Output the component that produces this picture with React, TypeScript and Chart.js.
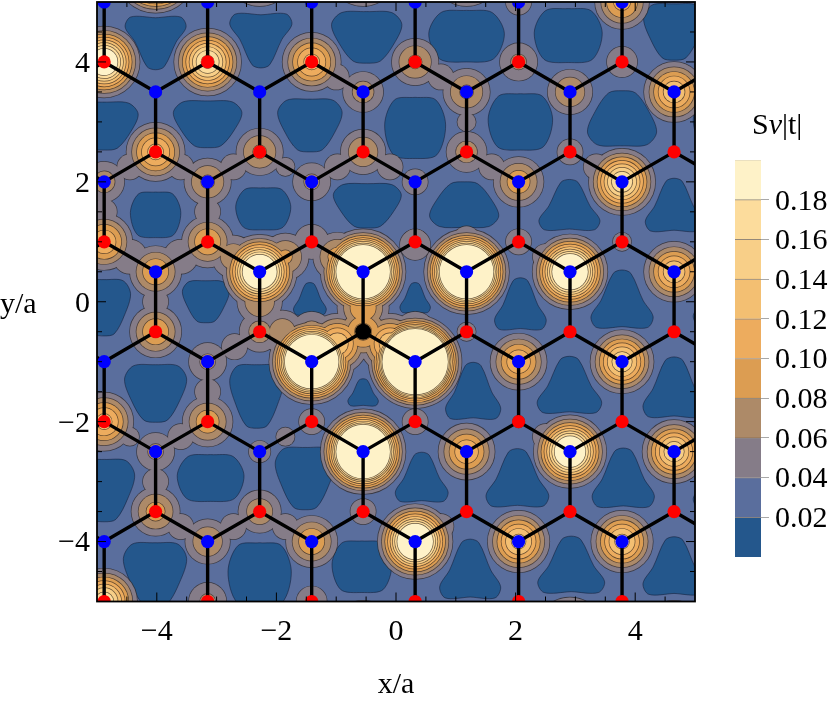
import React, { useEffect, useRef } from "react";
import { Chart, registerables } from "chart.js";
Chart.register(...registerables);

const SERIF = "'Liberation Serif', 'Times New Roman', serif";

// lattice columns
const evenCols = [-4.88, -3.15, -1.41, 0.32, 2.05, 3.78, 5.51];
const oddCols = [-4.02, -2.28, -0.55, 1.18, 2.91, 4.65];
const zigCols = [-5.74, -4.88, -4.02, -3.15, -2.28, -1.41, -0.55, 0.32, 1.18, 2.05, 2.91, 3.78, 4.65, 5.51];

// sublattice rows
const redEvenY = [-5, -2, 1, 4];
const redOddY = [-3.5, -0.5, 2.5];
const blueEvenY = [-4, -1, 2, 5];
const blueOddY = [-2.5, 0.5, 3.5];
const impurity = [{ x: -0.55, y: -0.5 }];

// peak height of S nu |t| at each site, row by row
const ampY55 = [0.4, 0.2, 0.2, 0.2, 0.1, 0.03];
const ampY5 = [0.03, 0.03, 0.03, 0.03, 0.05, 0.11, 0.03];
const ampY4 = [0.23, 0.19, 0.13, 0.085, 0.065, 0.055, 0.03];
const ampY35 = [0.03, 0.03, 0.07, 0.085, 0.08, 0.14];
const ampY25 = [0.13, 0.085, 0.08, 0.07, 0.05, 0.03];
const ampY2 = [0.07, 0.085, 0.065, 0.05, 0.095, 0.185, 0.08];
const ampY1 = [0.12, 0.1, 0.06, 0.05, 0.05, 0.045, 0.03];
const ampY05 = [0.1, 0.27, 0.49, 0.49, 0.28, 0.14];
const ampYm05 = [0.1, 0.07, 0.11, 0.045, 0.03, 0.03];
const ampYm1 = [0.03, 0.065, 0.49, 0.8, 0.12, 0.16, 0.06];
const ampYm2 = [0.13, 0.095, 0.05, 0.05, 0.042, 0.03, 0.03];
const ampYm25 = [0.065, 0.047, 0.49, 0.12, 0.25, 0.16];
const ampYm35 = [0.09, 0.075, 0.05, 0.03, 0.03, 0.03];
const ampYm4 = [0.03, 0.08, 0.1, 0.28, 0.15, 0.15, 0.05];
const ampYm5 = [0.18, 0.065, 0.055, 0.03, 0.03, 0.03, 0.03];
const ampYm55 = [0.03, 0.03, 0.15, 0.03, 0.2, 0.15];

// ridges along bonds where neighbouring peaks merge: x, y, height
const ridges: number[][] = [
  [-2.72, 0.75, 0.075], [-1.85, 0.75, 0.085], [-0.98, 0.75, 0.09], [-2.28, 0, 0.08], [-1.9, -0.5, 0.075],
  [-1.41, -0.5, 0.07], [0.32, -0.5, 0.07], [-0.98, -0.7, 0.14], [-0.1, -0.7, 0.14], [-0.55, -0.1, 0.1],
  [-1, 3.75, 0.05], [-4.45, 2.25, 0.05], [-3.6, 2.25, 0.05], [-2.72, 2.25, 0.05], [-1.85, 2.25, 0.045],
  [-0.98, 2.25, 0.05], [-3.15, 1.5, 0.05], [-4.88, 1.5, 0.05], [-4.45, 0.75, 0.06], [-3.6, 0.75, 0.06],
  [-4.02, 0, 0.05], [-2.7, -0.75, 0.05], [-3.15, -1.5, 0.05], [-4.45, -2.25, 0.045], [-3.6, -2.25, 0.05],
  [-4.02, -3, 0.05], [-3.6, -3.75, 0.05], [-2.72, -3.75, 0.05], [-1.85, -3.75, 0.05], [-0.1, 2.25, 0.05],
  [0.75, 3.75, 0.05], [1.18, 3, 0.045], [1.6, 2.25, 0.05], [3.35, 2.25, 0.05], [2.5, 0.75, 0.05],
  [2.5, -2.25, 0.05], [-1.85, -2.25, 0.045], [0.75, -3.75, 0.05], [0.32, 0.95, 0.055], [1.18, 1.05, 0.05],
];

// lowest-band regions: centre x, centre y, half width, half height, outline
const poolX = [-4.02, -2.26, -0.49, 1.18, 2.88, 4.65, -4.88, -3.15, -1.44, 0.32, 2.08, 3.78, 5.51, -4.02, -2.22, -0.48, 1.14, 2.9, 4.65, -4.88, -3.18, -1.44, 0.32, 2.08, 3.78, 5.51, -4.02, -2.33, -0.55, 1.29, 2.9, 4.65, -4.88, -3.1, -1.52, 0.43, 2.03, 3.8, 5.51, -4.03, -2.28, -0.57, 1.24, 2.93, 4.65];
const poolY = [4.31, 4.35, 4.41, 4.43, 4.44, 4.5, 2.93, 2.96, 2.94, 2.9, 3.0, 3.06, 3.0, 1.45, 1.55, 1.6, 1.62, 1.62, 1.62, -0.1, 0, 0.05, 0.07, -0.03, 0.05, 0.05, -1.53, -1.58, -1.51, -1.48, -1.38, -1.42, -3.15, -2.94, -2.95, -2.92, -2.93, -2.93, -3, -4.55, -4.55, -4.42, -4.45, -4.38, -4.4];
const poolW = [0.52, 0.53, 0.6, 0.645, 0.58, 0.52, 0.58, 0.585, 0.55, 0.52, 0.55, 0.59, 0.55, 0.43, 0.47, 0.58, 0.59, 0.52, 0.49, 0.45, 0.4, 0.28, 0.26, 0.44, 0.53, 0.55, 0.53, 0.46, 0.26, 0.47, 0.55, 0.53, 0.52, 0.57, 0.51, 0.45, 0.535, 0.53, 0.55, 0.54, 0.54, 0.51, 0.52, 0.57, 0.53];
const poolH = [0.44, 0.45, 0.43, 0.43, 0.45, 0.47, 0.4, 0.39, 0.44, 0.51, 0.47, 0.46, 0.45, 0.38, 0.35, 0.37, 0.38, 0.42, 0.44, 0.47, 0.35, 0.27, 0.25, 0.43, 0.48, 0.45, 0.48, 0.53, 0.225, 0.47, 0.47, 0.5, 0.52, 0.39, 0.52, 0.41, 0.48, 0.49, 0.45, 0.53, 0.53, 0.43, 0.49, 0.47, 0.48];
const poolKind = ["D", "D", "T", "H", "H", "T", "T", "T", "T", "H", "H", "B", "H", "H", "H", "T", "B", "U", "U", "T", "T", "U", "U", "U", "U", "U", "T", "T", "U", "U", "U", "U", "T", "H", "T", "U", "U", "U", "U", "T", "H", "H", "U", "U", "U"];

const outlineD = [[0, 0.97], [0.8, 1], [0.98, 0.62], [0.66, 0.05], [0.28, -0.88], [0, -1], [-0.28, -0.88], [-0.66, 0.05], [-0.98, 0.62], [-0.8, 1], [0, 0.97]];
const outlineT = [[0, 1], [0.7, 0.96], [0.98, 0.5], [0.76, -0.25], [0.38, -0.92], [0, -1], [-0.38, -0.92], [-0.76, -0.25], [-0.98, 0.5], [-0.7, 0.96], [0, 1]];
const outlineH = [[0, 1], [0.66, 0.92], [0.98, 0.1], [0.7, -0.88], [0, -1], [-0.7, -0.88], [-0.98, 0.1], [-0.66, 0.92], [0, 1]];
const flip = (o: number[][]) => o.map(([a, b]) => [a, -b]);
const outlines: Record<string, number[][]> = { D: outlineD, T: outlineT, H: outlineH, U: flip(outlineD), B: flip(outlineT) };

// contour levels and their band colours
const bandEdges = [0, 0.02, 0.04, 0.06, 0.08, 0.1, 0.12, 0.14, 0.16, 0.18, 0.2];
const bandColors = ["#24578c", "#5a6e9d", "#857c88", "#ad8a68", "#dc9d52", "#edac5e", "#f3bf72", "#f8cf88", "#fcdc9c", "#fef2c8"];
const legendTicks = [0.02, 0.04, 0.06, 0.08, 0.1, 0.12, 0.14, 0.16, 0.18];

const axisLabels = [-4, -2, 0, 2, 4];
const minorTicks = [-4.5, -3.5, -3, -2.5, -1.5, -1, -0.5, 0.5, 1, 1.5, 2.5, 3, 3.5, 4.5];

const haloRows: [number, number[], number[]][] = [
  [5.5, oddCols, ampY55], [5, evenCols, ampY5], [4, evenCols, ampY4], [3.5, oddCols, ampY35],
  [2.5, oddCols, ampY25], [2, evenCols, ampY2], [1, evenCols, ampY1], [0.5, oddCols, ampY05],
  [-0.5, oddCols, ampYm05], [-1, evenCols, ampYm1], [-2, evenCols, ampYm2], [-2.5, oddCols, ampYm25],
  [-3.5, oddCols, ampYm35], [-4, evenCols, ampYm4], [-5, evenCols, ampYm5], [-5.5, oddCols, ampYm55],
];

const WIDTH2 = 720; // squared halo width in canvas pixels

function haloPoints(level: number) {
  const pts: { x: number; y: number; r: number }[] = [];
  const add = (x: number, y: number, a: number) => {
    if (a > level) pts.push({ x, y, r: Math.sqrt(WIDTH2 * Math.log(a / level)) });
  };
  haloRows.forEach(([y, cols, amps]) => cols.forEach((x, i) => add(x, y, amps[i])));
  ridges.forEach(([x, y, a]) => add(x, y, a));
  return pts;
}

function atoms(colsYs: [number[], number[]][]) {
  const out: { x: number; y: number }[] = [];
  colsYs.forEach(([cols, ys]) => ys.forEach((y) => cols.forEach((x) => out.push({ x, y }))));
  return out;
}

function zigzag(yEvenRow: number, yOddRow: number) {
  return zigCols.map((x) => ({ x, y: evenCols.includes(x) ? yEvenRow : yOddRow }));
}

const line = (data: any[], extra: any = {}) => ({
  type: "line",
  data,
  pointRadius: 0,
  borderColor: "#000",
  borderWidth: 3.4,
  fill: false,
  tension: 0,
  ...extra,
});

function buildDatasets() {
  const paint: any[] = [];
  poolX.forEach((x, i) => {
    const d = outlines[poolKind[i]].map(([a, b]) => ({ x: x + a * poolW[i], y: poolY[i] + b * poolH[i] }));
    paint.push(line(d, { fill: "shape", tension: 0.32, backgroundColor: bandColors[0], borderColor: "rgba(20,30,55,0.55)", borderWidth: 1 }));
  });
  bandEdges.slice(2, 10).forEach((level, i) => {
    const pts = haloPoints(level);
    paint.push({ type: "bubble", data: pts, backgroundColor: "rgba(0,0,0,0)", borderColor: "rgba(45,35,30,0.7)", borderWidth: 1.4, clip: 0 });
    paint.push({ type: "bubble", data: pts, backgroundColor: bandColors[i + 2], borderWidth: 0, clip: 0 });
  });
  // bonds
  [[4, 3.5], [1, 0.5], [-2, -2.5], [2, 2.5], [-1, -0.5], [-4, -3.5]].forEach(([e, o]) => paint.push(line(zigzag(e, o))));
  [[5, 4], [2, 1], [-1, -2], [-4, -5]].forEach(([a, b]) =>
    evenCols.forEach((x) => paint.push(line([{ x, y: a }, { x, y: b }]))),
  );
  [[3.5, 2.5], [0.5, -0.5], [-2.5, -3.5]].forEach(([a, b]) =>
    oddCols.forEach((x) => paint.push(line([{ x, y: a }, { x, y: b }]))),
  );
  const pointSet = (data: any[], color: string, r: number) => ({
    type: "scatter", data, showLine: false, pointRadius: r, backgroundColor: color, borderWidth: 0, clip: 0,
  });
  paint.push(pointSet(atoms([[evenCols, redEvenY], [oddCols, redOddY]]), "#ff0000", 6.6));
  paint.push(pointSet(atoms([[evenCols, blueEvenY], [oddCols, blueOddY]]), "#0000ff", 6.6));
  paint.push(pointSet(impurity, "#000000", 8));
  return paint.reverse(); // Chart.js paints the first dataset last
}

const minus = (v: number) => (v < 0 ? "\u2212" + Math.abs(v) : String(v));

const framePlugin = {
  id: "frame",
  beforeDatasetsDraw(chart: any) {
    const { ctx, chartArea: a } = chart;
    ctx.save();
    ctx.fillStyle = bandColors[1];
    ctx.fillRect(a.left, a.top, a.right - a.left, a.bottom - a.top);
    ctx.restore();
  },
  afterDatasetsDraw(chart: any) {
    const { ctx, chartArea: a, scales } = chart;
    ctx.save();
    ctx.strokeStyle = "#000";
    const mark = (vals: number[], len: number, w: number) => {
      ctx.lineWidth = w;
      ctx.beginPath();
      vals.forEach((v) => {
        const px = scales.x.getPixelForValue(v);
        const py = scales.y.getPixelForValue(v);
        ctx.moveTo(px, a.bottom); ctx.lineTo(px, a.bottom - len);
        ctx.moveTo(px, a.top); ctx.lineTo(px, a.top + len);
        ctx.moveTo(a.left, py); ctx.lineTo(a.left + len, py);
        ctx.moveTo(a.right, py); ctx.lineTo(a.right - len, py);
      });
      ctx.stroke();
    };
    mark(axisLabels, 9, 1);
    mark(minorTicks, 5, 1);
    ctx.lineWidth = 1.8;
    ctx.strokeRect(a.left, a.top, a.right - a.left, a.bottom - a.top);
    ctx.fillStyle = "#000";
    ctx.font = `30px ${SERIF}`;
    ctx.textAlign = "left";
    ctx.textBaseline = "middle";
    ctx.fillText("y/a", 0, 305);
    ctx.restore();
  },
};

const legendTitlePlugin = {
  id: "legendTitle",
  afterDraw(chart: any) {
    const { ctx } = chart;
    ctx.save();
    ctx.fillStyle = "#000";
    ctx.textBaseline = "alphabetic";
    ctx.textAlign = "left";
    let x = 52;
    const y = 134;
    const parts: [string, string][] = [["S", ""], ["\u03bd", "italic "], ["|t|", ""]];
    parts.forEach(([t, style]) => {
      ctx.font = `${style}30px ${SERIF}`;
      ctx.fillText(t, x, y);
      x += ctx.measureText(t).width;
    });
    ctx.restore();
  },
};

export default function App() {
  const mainRef = useRef<HTMLCanvasElement>(null);
  const barRef = useRef<HTMLCanvasElement>(null);

  useEffect(() => {
    const tickFont = { family: SERIF, size: 30 };
    const noPad = (s: any) => { s.paddingTop = 0; s.paddingBottom = 0; s.paddingLeft = 0; s.paddingRight = 0; };
    const main = new Chart(mainRef.current as HTMLCanvasElement, {
      type: "bubble",
      data: { datasets: buildDatasets() },
      plugins: [framePlugin],
      options: {
        animation: false,
        responsive: false,
        events: [],
        layout: { autoPadding: false, padding: { top: 2, right: 135, left: 0, bottom: 0 } },
        plugins: { legend: { display: false }, tooltip: { enabled: false } },
        scales: {
          x: {
            type: "linear", min: -5, max: 5,
            grid: { display: false, drawTicks: false },
            border: { display: false },
            afterBuildTicks: (s: any) => { s.ticks = axisLabels.map((value) => ({ value })); },
            afterFit: (s: any) => { s.height = 100.5; noPad(s); },
            ticks: { color: "#000", font: tickFont, padding: 13, maxRotation: 0, autoSkip: false, callback: (v: any) => minus(Number(v)) },
            title: { display: true, text: "x/a", color: "#000", font: { family: SERIF, size: 30, lineHeight: 1 }, padding: 2 },
          },
          y: {
            type: "linear", min: -5, max: 5,
            grid: { display: false, drawTicks: false },
            border: { display: false },
            afterBuildTicks: (s: any) => { s.ticks = axisLabels.map((value) => ({ value })); },
            afterFit: (s: any) => { s.width = 97; noPad(s); },
            ticks: { color: "#000", font: tickFont, padding: 7, labelOffset: 2, autoSkip: false, callback: (v: any) => minus(Number(v)) },
          },
        },
      },
    } as any);

    const bar = new Chart(barRef.current as HTMLCanvasElement, {
      type: "bar",
      data: {
        labels: ["S\u03bd|t|"],
        datasets: bandColors.map((c, i) => ({
          data: [[bandEdges[i], bandEdges[i + 1]]],
          backgroundColor: c,
          borderColor: "rgba(60,50,40,0.55)",
          borderWidth: { top: i === 9 ? 0.5 : 1, bottom: 0, left: 0, right: 0 },
          borderSkipped: false,
          grouped: false,
          barPercentage: 1,
          categoryPercentage: 1,
        })),
      },
      plugins: [legendTitlePlugin],
      options: {
        animation: false,
        responsive: false,
        events: [],
        layout: { padding: { top: 160, bottom: 145, left: 35, right: 0 } },
        plugins: { legend: { display: false }, tooltip: { enabled: false } },
        scales: {
          x: { display: false },
          y: {
            position: "right", min: 0, max: 0.2,
            grid: { drawOnChartArea: false, drawTicks: true, tickLength: 8, tickColor: "#a8a8a8", tickWidth: 1 },
            border: { display: false },
            afterBuildTicks: (s: any) => { s.ticks = legendTicks.map((value) => ({ value })); },
            afterFit: (s: any) => { s.width = 69; noPad(s); },
            ticks: { color: "#000", font: tickFont, padding: 6, labelOffset: 2, autoSkip: false, callback: (v: any) => Number(v).toFixed(2) },
          },
        },
      },
    } as any);

    return () => {
      main.destroy();
      bar.destroy();
    };
  }, []);

  return (
    <div style={{ position: "absolute", left: 0, top: 0, width: 830, height: 702, background: "#fff", overflow: "hidden" }}>
      <canvas ref={mainRef} width={830} height={702} style={{ position: "absolute", left: 0, top: 0 }} />
      <canvas ref={barRef} width={130} height={702} style={{ position: "absolute", left: 700, top: 0 }} />
    </div>
  );
}
